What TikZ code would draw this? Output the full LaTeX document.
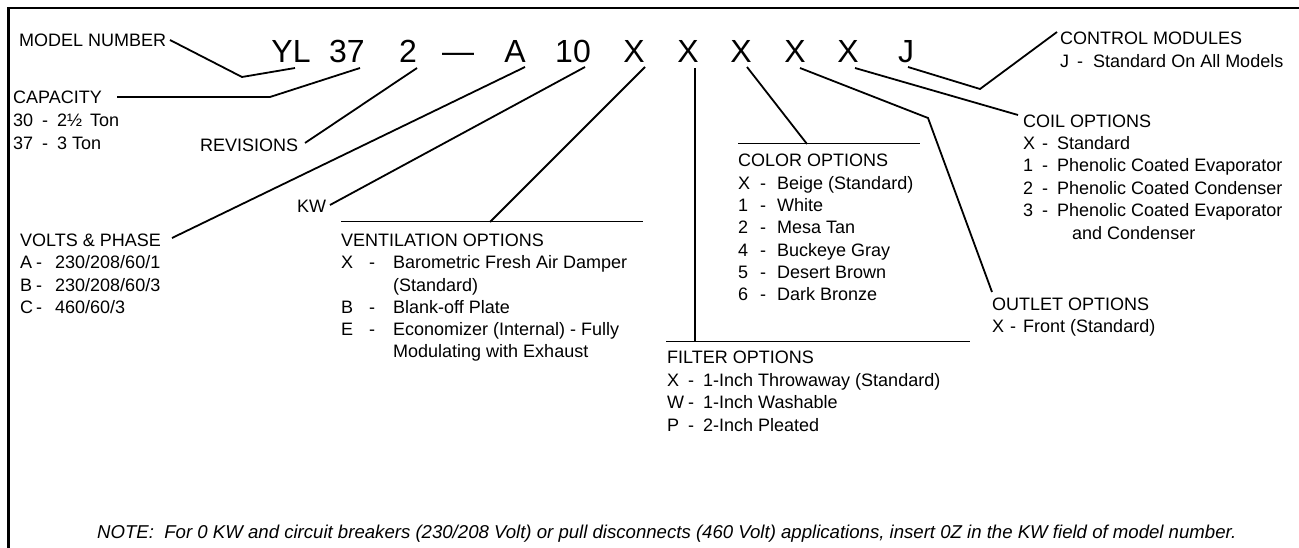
\documentclass[tikz,border=0pt]{standalone}
\usepackage{fontspec}
\setmainfont{Liberation Sans}
\newcommand{\optlab}[3]{\makebox[#1pt][l]{#3}\makebox[#2pt][l]{-}}
\begin{document}
\begin{tikzpicture}[x=1pt,y=-1pt,
  txt/.style={anchor=base west,inner sep=0pt,font=\fontsize{18}{20}\selectfont},
  big/.style={anchor=base,inner sep=0pt,font=\fontsize{32}{36}\selectfont},
  note/.style={anchor=base west,inner sep=0pt,font=\fontsize{18.6}{20}\selectfont\itshape},
  lead/.style={line width=1.8pt,line join=miter},
  rulel/.style={line width=1pt},
  frame/.style={line width=2.6pt}]
\useasboundingbox (0,0) rectangle (1299,548);
% frame
\coordinate (fb) at (8.5,548);
\coordinate (fc) at (8.5,8);
\coordinate (fr) at (1299,8);
\draw[frame] (fb) -- (fc) -- (fr);

% model number characters
\node[big] (yl) at (291,63) {YL};
\node[big] (c37) at (347,63) {37};
\node[big] (c2) at (408,63) {2};
\node[big] (dash) at (458,63) {—};
\node[big] (cA) at (515,63) {A};
\node[big] (c10) at (573,63) {10};
\node[big] (x1) at (634,63) {X};
\node[big] (x2) at (688,63) {X};
\node[big] (x3) at (741,63) {X};
\node[big] (x4) at (795,63) {X};
\node[big] (x5) at (848,63) {X};
\node[big] (cJ) at (906,63) {J};

% leader tips under characters
\coordinate (t-yl) at (295,68);
\coordinate (t-37) at (360,68);
\coordinate (t-2) at (417,68);
\coordinate (t-A) at (525,67);
\coordinate (t-10) at (585,67);
\coordinate (t-x1) at (645,67);
\coordinate (t-x2) at (695,68);
\coordinate (t-x3) at (747,67);
\coordinate (t-x4) at (800,68);
\coordinate (t-x5) at (855,68);
\coordinate (t-J) at (908,67);

% MODEL NUMBER
\node[txt] (mn) at (19,47) {MODEL NUMBER};
\coordinate (mn-e) at (170,40);
\coordinate (mn-k) at (242,77);
\draw[lead] (mn-e) -- (mn-k) -- (t-yl);

% CAPACITY
\node[txt] (cap) at (13,104) {CAPACITY};
\node[txt] (cap1) at (13,127) {\optlab{29}{15}{30}2½ \,Ton};
\node[txt] (cap2) at (13,150) {\optlab{29}{15}{37}3 Ton};
\coordinate (cap-e) at (117,97);
\coordinate (cap-k) at (270,97);
\draw[lead] (cap-e) -- (cap-k) -- (t-37);

% REVISIONS
\node[txt] (rev) at (200,152) {REVISIONS};
\coordinate (rev-e) at (305,143);
\draw[lead] (rev-e) -- (t-2);

% VOLTS & PHASE
\node[txt] (vp) at (20,247) {VOLTS \& PHASE};
\node[txt] (vp1) at (20,269) {\optlab{16}{19}{A}230/208/60/1};
\node[txt] (vp2) at (20,291) {\optlab{16}{19}{B}230/208/60/3};
\node[txt] (vp3) at (20,313) {\optlab{16}{19}{C}460/60/3};
\coordinate (vp-e) at (172,238);
\draw[lead] (vp-e) -- (t-A);

% KW
\node[txt] (kw) at (297,213) {KW};
\coordinate (kw-e) at (330,205);
\draw[lead] (kw-e) -- (t-10);

% VENTILATION OPTIONS
\coordinate (vr-l) at (341,222);
\coordinate (vr-r) at (643,222);
\coordinate (vr-m) at (490,222);
\draw[rulel] (vr-l) -- (vr-r);
\draw[lead] (vr-m) -- (t-x1);
\node[txt] (ven) at (341,247) {VENTILATION OPTIONS};
\node[txt] (ven1) at (341,269) {\optlab{28}{24}{X}Barometric Fresh Air Damper};
\node[txt] (ven2) at (393,291) {(Standard)};
\node[txt] (ven3) at (341,313) {\optlab{28}{24}{B}Blank-off Plate};
\node[txt] (ven4) at (341,335) {\optlab{28}{24}{E}Economizer (Internal) - Fully};
\node[txt] (ven5) at (393,357) {Modulating with Exhaust};

% FILTER OPTIONS
\coordinate (fr-l) at (666,341);
\coordinate (fr-r) at (970,341);
\coordinate (fr-m) at (695,341);
\draw[rulel] (fr-l) -- (fr-r);
\draw[lead] (t-x2) -- (fr-m);
\node[txt] (fil) at (667,363) {FILTER OPTIONS};
\node[txt] (fil1) at (667,386) {\optlab{21}{15}{X}1-Inch Throwaway (Standard)};
\node[txt] (fil2) at (667,408) {\optlab{21}{15}{W}1-Inch Washable};
\node[txt] (fil3) at (667,431) {\optlab{21}{15}{P}2-Inch Pleated};

% COLOR OPTIONS
\coordinate (cr-l) at (738,144);
\coordinate (cr-r) at (920,144);
\coordinate (cr-m) at (807,144);
\draw[rulel] (cr-l) -- (cr-r);
\draw[lead] (cr-m) -- (t-x3);
\node[txt] (col) at (738,167) {COLOR OPTIONS};
\node[txt] (col1) at (738,190) {\optlab{22}{17}{X}Beige (Standard)};
\node[txt] (col2) at (738,212) {\optlab{22}{17}{1}White};
\node[txt] (col3) at (738,234) {\optlab{22}{17}{2}Mesa Tan};
\node[txt] (col4) at (738,257) {\optlab{22}{17}{4}Buckeye Gray};
\node[txt] (col5) at (738,279) {\optlab{22}{17}{5}Desert Brown};
\node[txt] (col6) at (738,301) {\optlab{22}{17}{6}Dark Bronze};

% OUTLET OPTIONS
\node[txt] (out) at (992,310) {OUTLET OPTIONS};
\node[txt] (out1) at (992,332) {\optlab{18}{13}{X}Front (Standard)};
\coordinate (out-k) at (928,118);
\coordinate (out-e) at (992,292);
\draw[lead] (t-x4) -- (out-k) -- (out-e);

% COIL OPTIONS
\node[txt] (coil) at (1023,128) {COIL OPTIONS};
\node[txt] (coil1) at (1023,150) {\optlab{19}{15}{X}Standard};
\node[txt] (coil2) at (1023,172) {\optlab{19}{15}{1}Phenolic Coated Evaporator};
\node[txt] (coil3) at (1023,195) {\optlab{19}{15}{2}Phenolic Coated Condenser};
\node[txt] (coil4) at (1023,217) {\optlab{19}{15}{3}Phenolic Coated Evaporator};
\node[txt] (coil5) at (1072,240) {and Condenser};
\coordinate (coil-e) at (1018,115);
\draw[lead] (t-x5) -- (coil-e);

% CONTROL MODULES
\node[txt] (ctl) at (1060,45) {CONTROL MODULES};
\node[txt] (ctl1) at (1060,68) {\optlab{17}{16}{J}Standard On All Models};
\coordinate (ctl-k) at (980,89);
\coordinate (ctl-e) at (1057,32);
\draw[lead] (t-J) -- (ctl-k) -- (ctl-e);

% NOTE
\node[note] (nt) at (97,538) {NOTE:\ \ For 0 KW and circuit breakers (230/208 Volt) or pull disconnects (460 Volt) applications, insert 0Z in the KW field of model number.};
\end{tikzpicture}
\end{document}
